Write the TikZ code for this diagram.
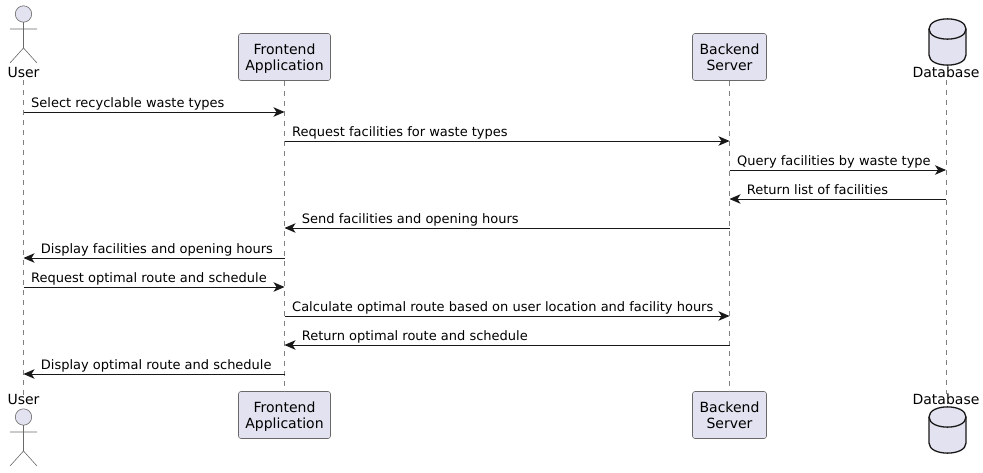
\documentclass[tikz,border=0pt]{standalone}
\usepackage{fontspec}
\setmainfont{DejaVu Sans}
\usetikzlibrary{arrows.meta}
\definecolor{pfill}{HTML}{E2E2F0}
\definecolor{pline}{HTML}{181818}
\colorlet{thinline}{pline!65}
\tikzset{
  part/.style={draw=thinline,line width=0.6pt,fill=pfill,rounded corners=2.5pt,minimum width=#1,minimum height=47pt,inner sep=0pt,align=center,font=\fontsize{14}{16}\selectfont},
  plabel/.style={inner sep=0pt,anchor=base,font=\fontsize{14}{16}\selectfont},
  life/.style={draw=pline!55,line width=0.5pt,dash pattern=on 5pt off 5pt},
  msgline/.style={draw=pline,line width=0.9pt,-{Stealth[length=11pt,width=9.5pt,inset=3pt,fill=pline]}},
  msgtext/.style={inner sep=0pt,anchor=base west,text=black,font=\fontsize{13}{15}\selectfont},
  limb/.style={draw=thinline,line width=0.6pt},
  dbshape/.style={draw=pline,line width=1.3pt,fill=pfill},
}
\newcommand{\actorfig}[1]{%
  \draw[limb,fill=pfill] (23.5,#1+9) circle (8.2);
  \draw[limb] (23.5,#1+17) -- (23.5,#1+43)
    (10,#1+24) -- (37,#1+24)
    (10,#1+58) -- (23.5,#1+43) -- (37,#1+58);}
\newcommand{\dbfig}[1]{%
  \draw[dbshape] (929,#1+10) .. controls (929,#1-3.5) and (966,#1-3.5) .. (966,#1+10)
    -- (966,#1+36) .. controls (966,#1+49.5) and (929,#1+49.5) .. (929,#1+36) -- cycle;
  \draw[dbshape,fill=none] (929,#1+10) .. controls (929,#1+23.5) and (966,#1+23.5) .. (966,#1+10);}
\newcommand{\msgR}[4]{\draw[msgline] (#1 |- 0,#3) -- (#2 |- 0,#3);
  \node[msgtext] (m#3) at ([xshift=7.5pt]#1 |- 0,#3-5) {#4};}
\newcommand{\msgL}[4]{\draw[msgline] (#1 |- 0,#3) -- (#2 |- 0,#3);
  \node[msgtext] (m#3) at ([xshift=17.2pt]#2 |- 0,#3-5) {#4};}
\begin{document}
\begin{tikzpicture}[x=1pt,y=-1pt]
\useasboundingbox (0,0) rectangle (983,472);
% participants
\node[plabel] (ut) at (23.5,77) {User};
\node[plabel] (ub) at (23.5,404) {User};
\node[part=92pt] (ft) at (284.5,57) {\rule{0pt}{13.5pt}Frontend\\Application};
\node[part=92pt] (fb) at (284.5,415) {\rule{0pt}{13.5pt}Frontend\\Application};
\node[part=74pt] (bt) at (729.5,57) {\rule{0pt}{13.5pt}Backend\\Server\vphantom{p}};
\node[part=74pt] (bb) at (729.5,415) {\rule{0pt}{13.5pt}Backend\\Server\vphantom{p}};
\node[plabel] (dt) at (946,77) {Database};
\node[plabel] (db) at (946,404) {Database};
% lifelines
\draw[life] (ut.south) ++(0,3) -- ([yshift=-1pt]ub.north);
\draw[life] (ft.south) -- (fb.north);
\draw[life] (bt.south) -- (bb.north);
\draw[life] (dt.south) ++(0,3) -- ([yshift=-1pt]db.north);
\actorfig{5}
\actorfig{408}
\dbfig{19}
\dbfig{407}
% messages
\msgR{ut}{ft}{112}{Select recyclable waste types}
\msgR{ft}{bt}{141}{Request facilities for waste types}
\msgR{bt}{dt}{170}{Query facilities by waste type}
\msgL{dt}{bt}{199}{Return list of facilities}
\msgL{bt}{ft}{228}{Send facilities and opening hours}
\msgL{ft}{ut}{258}{Display facilities and opening hours}
\msgR{ut}{ft}{287}{Request optimal route and schedule}
\msgR{ft}{bt}{316}{Calculate optimal route based on user location and facility hours}
\msgL{bt}{ft}{345}{Return optimal route and schedule}
\msgL{ft}{ut}{374}{Display optimal route and schedule}
\end{tikzpicture}
\end{document}
